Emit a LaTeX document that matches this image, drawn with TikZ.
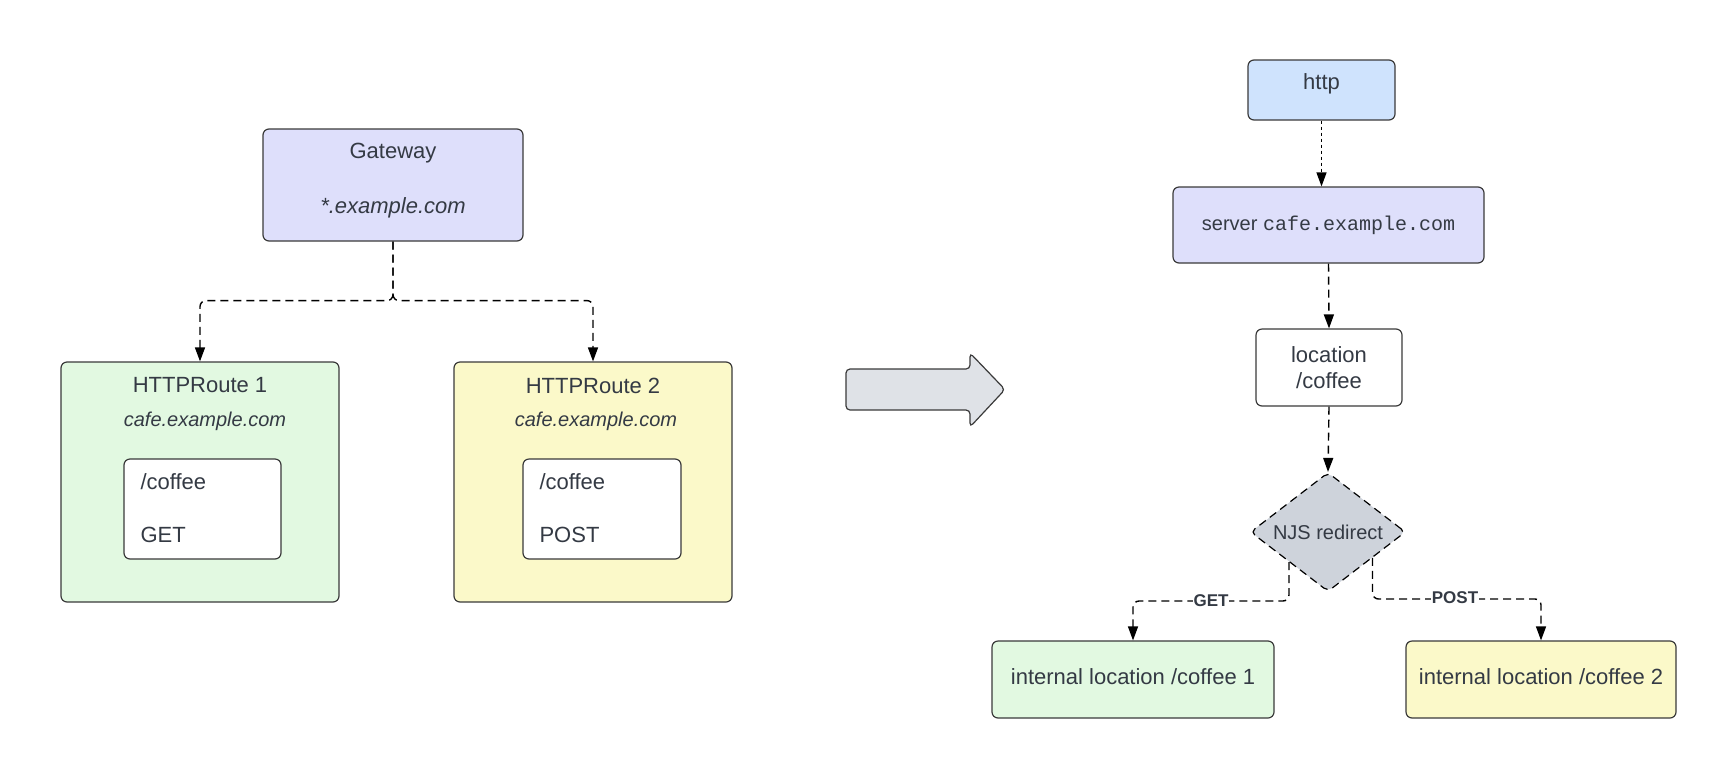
\documentclass[tikz,border=0pt]{standalone}
\usepackage{fontspec}
\setmainfont{Liberation Sans}
\newfontfamily\monof{Liberation Mono}
\usetikzlibrary{arrows.meta,shapes.geometric,calc}
\definecolor{txt}{HTML}{343A44}
\definecolor{edge}{HTML}{3A3A3A}
\definecolor{lav}{HTML}{DEDFFB}
\definecolor{grn}{HTML}{E2F9E1}
\definecolor{ylw}{HTML}{FBF9C9}
\definecolor{blu}{HTML}{CFE3FD}
\definecolor{gry}{HTML}{DFE2E7}
\definecolor{dgry}{HTML}{CED3DB}
\tikzset{
  box/.style={draw=edge, line width=1.2pt, rounded corners=6pt, inner sep=0pt, text=txt},
  big/.style={font=\fontsize{22}{26}\selectfont, text=txt},
  mid/.style={font=\fontsize{20}{24}\selectfont, text=txt},
  conn/.style={draw=black, line width=1.4pt, dash pattern=on 8pt off 5pt, rounded corners=6pt,
    -{Triangle[length=14pt,width=10pt]}},
  fine/.style={draw=black, line width=1.2pt, dash pattern=on 3pt off 3pt,
    -{Triangle[length=14pt,width=10pt]}},
  lbl/.style={font=\fontsize{17}{19}\selectfont\bfseries, text=txt, fill=white, inner sep=1pt}
}
\begin{document}
\begin{tikzpicture}[x=1pt,y=-1pt]
\useasboundingbox (0,0) rectangle (1710,780);
% left side
\node[box, fill=lav, minimum width=260pt, minimum height=112pt] (gw) at (393,185) {};
\node[big] (gwt) at (393,153.5) {Gateway};
\node[big] (gws) at (393,207.5) {\itshape *.example.com};

\node[box, fill=grn, minimum width=278pt, minimum height=240pt] (r1) at (200,482) {};
\node[big] (r1t) at (200,385.5) {HTTPRoute 1};
\node[mid] (r1s) at (205,421) {\itshape cafe.example.com};
\node[box, fill=white, minimum width=157pt, minimum height=100pt] (m1) at (202.5,509) {};
\node[big, anchor=west] (m1a) at (137,482) {/coffee};
\node[big, anchor=west] (m1b) at (137,535) {GET};

\node[box, fill=ylw, minimum width=278pt, minimum height=240pt] (r2) at (593,482) {};
\node[big] (r2t) at (593,385.5) {HTTPRoute 2};
\node[mid] (r2s) at (596,421) {\itshape cafe.example.com};
\node[box, fill=white, minimum width=158pt, minimum height=100pt] (m2) at (602,509) {};
\node[big, anchor=west] (m2a) at (536,482) {/coffee};
\node[big, anchor=west] (m2b) at (536,535) {POST};

\draw[conn] (gw.south) -- ++(0,59) -| (r1.north);
\draw[conn] (gw.south) -- ++(0,59) -| (r2.north);

% big arrow
\draw[draw=edge, line width=1.2pt, fill=gry, rounded corners=4pt]
  (846,369) -- (970,369) -- (970,353) -- (1005,389.5) -- (970,427) -- (970,410) -- (846,410) -- cycle;

% right side
\node[box, fill=blu, minimum width=147pt, minimum height=60pt, big] (http) at (1321.5,90)
  {\raisebox{0.7pt}[0pt][0pt]{http}};
\node[box, fill=lav, minimum width=311pt, minimum height=76pt, mid] (srv) at (1328.5,225)
  {\raisebox{1pt}{server {\monof cafe.example.com}}};
\node[box, fill=white, minimum width=146pt, minimum height=77pt, big, align=center] (loc) at (1329,367.5)
  {location\\/coffee};
\node[draw=black, line width=1.2pt, dash pattern=on 8pt off 5pt, fill=dgry, diamond, shape aspect=1.3,
  minimum width=155pt, minimum height=119pt, inner sep=0pt, rounded corners=5pt, mid] (nj) at (1328,532)
  {NJS redirect};
\node[box, fill=grn, minimum width=282pt, minimum height=77pt, big] (i1) at (1133,679.5)
  {\raisebox{-4.8pt}[0pt][0pt]{internal location /coffee 1}};
\node[box, fill=ylw, minimum width=270pt, minimum height=77pt, big] (i2) at (1541,679.5)
  {\raisebox{-4.8pt}[0pt][0pt]{internal location /coffee 2}};

\draw[fine] (http.south) -- (http.south |- srv.north);
\draw[conn] (srv.south) -- (loc.north);
\draw[conn] (loc.south) -- (nj.north);
\coordinate (g0) at ($(nj.west)!0.5!(nj.south)$);
\coordinate (p0) at ($(nj.east)!0.43!(nj.south)$);
\coordinate (gy) at (0,601);
\coordinate (py) at (0,599);
\draw[conn] (g0) -- (g0 |- gy) -| (i1.north);
\draw[conn] (p0) -- (p0 |- py) -| (i2.north);
\node[lbl] (gl) at (1211,601) {GET};
\node[lbl] (pl) at (1455,598) {POST};
\end{tikzpicture}
\end{document}
